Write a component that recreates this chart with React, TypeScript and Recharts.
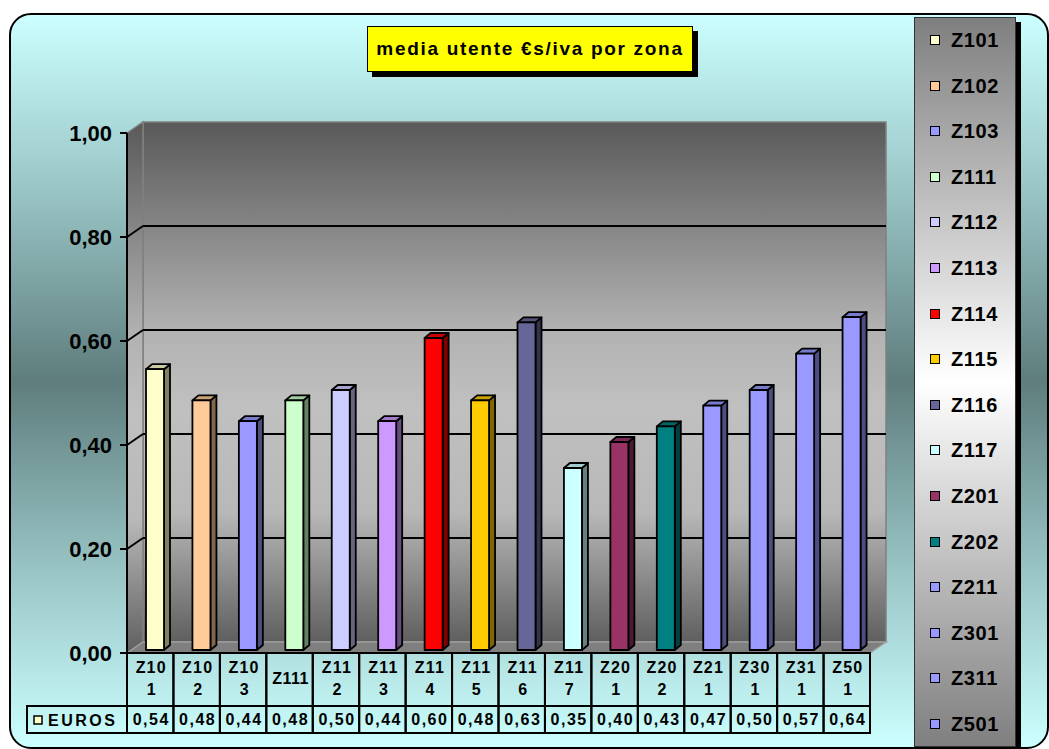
import React from 'react';
import { BarChart, Bar, XAxis, YAxis, CartesianGrid, Cell } from 'recharts';

// ---------- data ----------
const categories = ['Z101', 'Z102', 'Z103', 'Z111', 'Z112', 'Z113', 'Z114', 'Z115', 'Z116', 'Z117', 'Z201', 'Z202', 'Z211', 'Z301', 'Z311', 'Z501'];
const categoryLabelLines = [
  ['Z10', '1'], ['Z10', '2'], ['Z10', '3'], ['Z111'], ['Z11', '2'], ['Z11', '3'], ['Z11', '4'], ['Z11', '5'],
  ['Z11', '6'], ['Z11', '7'], ['Z20', '1'], ['Z20', '2'], ['Z21', '1'], ['Z30', '1'], ['Z31', '1'], ['Z50', '1'],
];
const euros = [0.54, 0.48, 0.44, 0.48, 0.5, 0.44, 0.6, 0.48, 0.63, 0.35, 0.4, 0.43, 0.47, 0.5, 0.57, 0.64];
const barColors = ['#FFFFCC', '#FFCC99', '#9999FF', '#CCFFCC', '#CCCCFF', '#CC99FF', '#FF0000', '#FFCC00', '#666699', '#CCFFFF', '#993366', '#008080', '#9999FF', '#9999FF', '#9999FF', '#9999FF'];
const yTicks = [0, 0.2, 0.4, 0.6, 0.8, 1];
const gridValues = [0.2, 0.4, 0.6, 0.8];
const title = 'media utente €s/iva por zona';
const seriesName = 'EUROS';

// ---------- layout ----------
const W = 1049;
const H = 749;
const PLOT_L = 127;
const PLOT_R = 870;
const PLOT_T = 133;
const PLOT_B = 653;
const DEPTH_X = 16;
const DEPTH_Y = -11;
const BAR_OX = 5;
const BAR_OY = -3;
const BAR_DX = 6;
const BAR_DY = -5;
const ROW1 = 53;
const ROW2 = 27;
const FONT = "Arial, 'Liberation Sans', sans-serif";

const chartData = categories.map((c, i) => ({ zona: c, euros: euros[i], color: barColors[i] }));

function shade(hex: string, f: number) {
  const n = parseInt(hex.replace('#', ''), 16);
  const r = Math.round(((n >> 16) & 255) * f);
  const g = Math.round(((n >> 8) & 255) * f);
  const b = Math.round((n & 255) * f);
  return `rgb(${r},${g},${b})`;
}

const Bar3D = (props: any) => {
  const { x, y, width, height } = props;
  const fill = (props.payload && props.payload.color) || props.fill;
  if (height == null || height <= 0) return null;
  const fx = x + BAR_OX;
  const fy = y + BAR_OY;
  const w = width;
  const h = height;
  return (
    <g stroke="#000" strokeWidth={1.8} strokeLinejoin="round">
      <polygon
        points={`${fx + w},${fy} ${fx + w + BAR_DX},${fy + BAR_DY} ${fx + w + BAR_DX},${fy + h + BAR_DY} ${fx + w},${fy + h}`}
        fill={shade(fill, 0.5)}
      />
      <polygon
        points={`${fx},${fy} ${fx + BAR_DX},${fy + BAR_DY} ${fx + w + BAR_DX},${fy + BAR_DY} ${fx + w},${fy}`}
        fill={shade(fill, 0.8)}
      />
      <rect x={fx} y={fy} width={w} height={h} fill={fill} />
    </g>
  );
};

const GridLine3D = (props: any) => {
  const { x1, y1, x2 } = props;
  return (
    <g key={props.key}>
      <line x1={x1} y1={y1} x2={x1 + DEPTH_X} y2={y1 + DEPTH_Y} stroke="#000" strokeWidth={2} />
      <line x1={x1 + DEPTH_X} y1={y1 + DEPTH_Y} x2={x2 + DEPTH_X} y2={y1 + DEPTH_Y} stroke="#000" strokeWidth={2} />
    </g>
  );
};

const TableTick = (props: any) => {
  const { x, y, index } = props;
  const band = (PLOT_R - PLOT_L) / categories.length;
  const left = x - band / 2;
  const lines = categoryLabelLines[index] || [String(props.payload?.value ?? '')];
  const val = euros[index];
  const txt = { fontFamily: FONT, fontWeight: 700, fill: '#000', textAnchor: 'middle' as const };
  return (
    <g>
      <rect x={left} y={y} width={band} height={ROW1} fill="none" stroke="#000" strokeWidth={2} />
      <rect x={left} y={y + ROW1} width={band} height={ROW2} fill="none" stroke="#000" strokeWidth={2} />
      {lines.length === 1 ? (
        <text x={x + 1} y={y + 31} fontSize={16} letterSpacing={0.5} {...txt}>{lines[0]}</text>
      ) : (
        <>
          <text x={x + 1} y={y + 20} fontSize={16} letterSpacing={1.2} {...txt}>{lines[0]}</text>
          <text x={x + 1} y={y + 42} fontSize={16} {...txt}>{lines[1]}</text>
        </>
      )}
      <text x={x + 1} y={y + ROW1 + 19} fontSize={16} letterSpacing={1.5} {...txt}>
        {val.toFixed(2).replace('.', ',')}
      </text>
    </g>
  );
};

export default function App() {
  const legendTop = 17;
  const legendItemGap = 45.6;
  return (
    <div style={{ position: 'absolute', left: 0, top: 0, width: W, height: H, background: '#ffffff', overflow: 'hidden' }}>
      {/* outer chart area */}
      <div
        style={{
          position: 'absolute',
          left: 9,
          top: 13,
          width: 1036,
          height: 732,
          border: '2px solid #000',
          borderRadius: 22,
          background: 'linear-gradient(to bottom, #ccffff 0%, #97c2c2 25%, #5f7d7d 50%, #97c2c2 75%, #ccffff 100%)',
        }}
      />
      {/* 3D walls & floor */}
      <svg style={{ position: 'absolute', left: 0, top: 0 }} width={W} height={H}>
        <defs>
          <linearGradient id="wall" x1="0" y1="0" x2="0" y2="1">
            <stop offset="0" stopColor="#595959" />
            <stop offset="0.4" stopColor="#b2b2b2" />
            <stop offset="0.55" stopColor="#c0c0c0" />
            <stop offset="0.75" stopColor="#b8b8b8" />
            <stop offset="1" stopColor="#5f5f5f" />
          </linearGradient>
        </defs>
        <rect
          x={PLOT_L + DEPTH_X}
          y={PLOT_T + DEPTH_Y}
          width={PLOT_R - PLOT_L}
          height={PLOT_B - PLOT_T}
          fill="url(#wall)"
          stroke="#808080"
          strokeWidth={1.5}
        />
        <polygon
          points={`${PLOT_L},${PLOT_T} ${PLOT_L + DEPTH_X},${PLOT_T + DEPTH_Y} ${PLOT_L + DEPTH_X},${PLOT_B + DEPTH_Y} ${PLOT_L},${PLOT_B}`}
          fill="url(#wall)"
          stroke="#808080"
          strokeWidth={1.5}
        />
        <polygon
          points={`${PLOT_L},${PLOT_B} ${PLOT_L + DEPTH_X},${PLOT_B + DEPTH_Y} ${PLOT_R + DEPTH_X},${PLOT_B + DEPTH_Y} ${PLOT_R},${PLOT_B}`}
          fill="#7f7f7f"
          stroke="#a0a0a0"
          strokeWidth={1.5}
        />
      </svg>
      {/* chart */}
      <div style={{ position: 'absolute', left: 0, top: 0 }}>
        <BarChart
          width={W}
          height={H}
          data={chartData}
          margin={{ top: PLOT_T, right: W - PLOT_R, bottom: H - PLOT_B - ROW1 - ROW2, left: PLOT_L - 60 }}
        >
          <CartesianGrid vertical={false} horizontalValues={gridValues} horizontal={(p: any) => <GridLine3D {...p} />} />
          <XAxis
            dataKey="zona"
            type="category"
            interval={0}
            height={ROW1 + ROW2}
            tickSize={0}
            tickMargin={0}
            axisLine={false}
            tickLine={false}
            tick={(p: any) => <TableTick {...p} />}
          />
          <YAxis
            type="number"
            domain={[0, 1]}
            ticks={yTicks}
            interval={0}
            width={60}
            axisLine={{ stroke: '#000', strokeWidth: 2 }}
            tickLine={{ stroke: '#000', strokeWidth: 2 }}
            tickSize={7}
            tickMargin={8}
            tick={{ fill: '#000', fontSize: 22, fontWeight: 700, fontFamily: FONT }}
            tickFormatter={(v: number) => v.toFixed(2).replace('.', ',')}
          />
          <Bar dataKey="euros" barSize={18} shape={(p: any) => <Bar3D {...p} />} isAnimationActive={false}>
            {chartData.map((d, i) => (
              <Cell key={i} fill={d.color} />
            ))}
          </Bar>
        </BarChart>
      </div>
      {/* data table row header */}
      <svg style={{ position: 'absolute', left: 0, top: 0, pointerEvents: 'none' }} width={W} height={H}>
        <rect x={27} y={PLOT_B + ROW1} width={PLOT_L - 27} height={ROW2} fill="none" stroke="#000" strokeWidth={2} />
        <rect x={34} y={716} width={8} height={8} fill={barColors[0]} stroke="#000" strokeWidth={1.5} />
        <text x={48} y={PLOT_B + ROW1 + 20} fontFamily={FONT} fontWeight={700} fontSize={16} letterSpacing={2.5}>
          {seriesName}
        </text>
      </svg>
      {/* title */}
      <div
        style={{
          position: 'absolute',
          left: 367,
          top: 26,
          width: 324,
          height: 44,
          background: '#ffff00',
          border: '1.5px solid #000',
          boxShadow: '5px 5px 0 #000',
          fontFamily: FONT,
          fontWeight: 700,
          fontSize: 19,
          letterSpacing: 1.7,
          lineHeight: '44px',
          textAlign: 'center',
          whiteSpace: 'nowrap',
        }}
      >
        {title}
      </div>
      {/* legend */}
      <div
        style={{
          position: 'absolute',
          left: 914,
          top: legendTop,
          width: 100,
          height: 728,
          border: '1px solid #333',
          boxShadow: '5px 5px 0 #000',
          background: 'linear-gradient(to bottom, #7f7f7f 0%, #ffffff 50%, #7f7f7f 100%)',
        }}
      >
        {categories.map((c, i) => {
          const cy = 39 - legendTop + i * legendItemGap;
          return (
            <div key={c}>
              <div
                style={{
                  position: 'absolute',
                  left: 15,
                  top: cy - 5,
                  width: 8,
                  height: 8,
                  border: '1.5px solid #000',
                  background: barColors[i],
                }}
              />
              <div
                style={{
                  position: 'absolute',
                  left: 36,
                  top: cy - 12,
                  height: 24,
                  lineHeight: '24px',
                  fontFamily: FONT,
                  fontWeight: 700,
                  fontSize: 20,
                  letterSpacing: 0.6,
                  color: '#000',
                }}
              >
                {c}
              </div>
            </div>
          );
        })}
      </div>
    </div>
  );
}
